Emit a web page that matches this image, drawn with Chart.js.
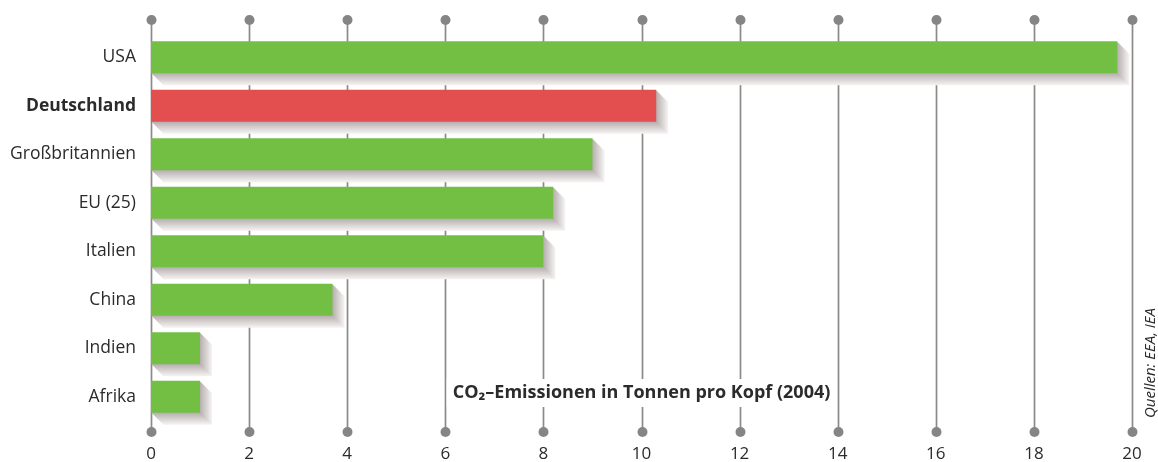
<!DOCTYPE html>
<html>
<head>
<meta charset="utf-8">
<script src="https://cdn.jsdelivr.net/npm/chart.js@4.4.0/dist/chart.umd.min.js"></script>
<style>
  html, body { margin:0; padding:0; background:#fff; }
  #wrap { width:1158px; height:462px; position:relative; }
</style>
</head>
<body>
<div id="wrap"><canvas id="chart"></canvas></div>
<script>
// CO2 per capita 2004, tonnes
const countries = ['USA','Deutschland','Großbritannien','EU (25)','Italien','China','Indien','Afrika'];
const tonnes = [19.7, 10.3, 9.0, 8.2, 8.0, 3.7, 1.0, 1.0];
const highlight = 'Deutschland';
const xTicks = [0,2,4,6,8,10,12,14,16,18,20];
const titleText = 'CO₂–Emissionen in Tonnen pro Kopf (2004)';
const sourceText = 'Quellen: EEA, IEA';

const FONT = '"Open Sans"';
const TXT = '#2b2b2b';
const GREEN = '#72bf44', RED = '#e34e4f';
const GRID = '#8a8a8a';

const deko = {
  id: 'deko',
  beforeDatasetsDraw(chart){
    const {ctx, chartArea:a, scales:{x}} = chart;
    ctx.save();
    // vertical lines, running past the plot at both ends
    ctx.strokeStyle = GRID; ctx.lineWidth = 1.7;
    xTicks.forEach(v=>{
      const px = Math.round(x.getPixelForValue(v)) + 0.5;
      ctx.beginPath(); ctx.moveTo(px, a.top - 13); ctx.lineTo(px, a.bottom + 11); ctx.stroke();
    });
    // stepped drop shadow under each bar
    const meta = chart.getDatasetMeta(0);
    const depth = 12;
    meta.data.forEach(b=>{
      const x0 = Math.min(b.base, b.x), x1 = Math.max(b.base, b.x);
      const y0 = b.y - b.height/2;
      for(let i=depth;i>=1;i--){
        const t = (i-1)/(depth-1);
        const r = Math.round(186 + t*(244-186)), g = Math.round(178 + t*(241-178)), bl = Math.round(178 + t*(241-178));
        ctx.fillStyle = `rgb(${r},${g},${bl})`;
        ctx.fillRect(x0 + i, y0 + i, x1 - x0, b.height);
      }
    });
    ctx.restore();
  },
  afterDatasetsDraw(chart){
    const {ctx, chartArea:a, scales:{x}} = chart;
    ctx.save();
    ctx.fillStyle = '#858585';
    xTicks.forEach(v=>{
      const px = Math.round(x.getPixelForValue(v)) + 0.5;
      [a.top - 13, a.bottom + 11].forEach(py=>{
        ctx.beginPath(); ctx.arc(px, py, 5, 0, Math.PI*2); ctx.fill();
      });
    });
    // axis title in a white box
    ctx.font = `bold 18px ${FONT}`;
    const cx = (a.left + a.right)/2, cy = a.bottom - 28;
    const w = ctx.measureText(titleText).width;
    ctx.fillStyle = '#fff';
    ctx.fillRect(cx - w/2 - 6, cy - 14, w + 12, 28);
    ctx.fillStyle = TXT; ctx.textAlign = 'center'; ctx.textBaseline = 'middle';
    ctx.fillText(titleText, cx, cy);
    // source, rotated
    ctx.translate(a.right + 19, a.bottom - 58);
    ctx.rotate(-Math.PI/2);
    ctx.font = `italic 15px ${FONT}`;
    ctx.fillText(sourceText, 0, 0);
    ctx.restore();
  }
};

new Chart(document.getElementById('chart'), {
  type: 'bar',
  data: {
    labels: countries,
    datasets: [{
      data: tonnes,
      backgroundColor: countries.map(c => c === highlight ? RED : GREEN),
      borderWidth: 0,
      barPercentage: 0.66,
      categoryPercentage: 1
    }]
  },
  options: {
    indexAxis: 'y',
    responsive: true,
    maintainAspectRatio: false,
    animation: false,
    layout: { padding: { top: 33, right: 26, left: 0, bottom: 0 } },
    plugins: { legend: { display:false }, tooltip: { enabled:false } },
    scales: {
      x: {
        min: 0, max: 20,
        afterBuildTicks: s => { s.ticks = xTicks.map(v => ({value:v})); },
        ticks: { color: TXT, font: { family: FONT, size: 17 }, padding: 15, maxRotation: 0 },
        grid: { display:false },
        border: { display:false },
        afterFit: s => { s.height = 41; }
      },
      y: {
        ticks: {
          color: TXT, padding: 7,
          font: c => ({ family: FONT, size: 17.5, weight: countries[c.index] === highlight ? 'bold' : 'normal' })
        },
        grid: { display:false },
        border: { display:false },
        afterFit: s => { s.width = 151; }
      }
    }
  },
  plugins: [deko]
});
</script>
</body>
</html>
